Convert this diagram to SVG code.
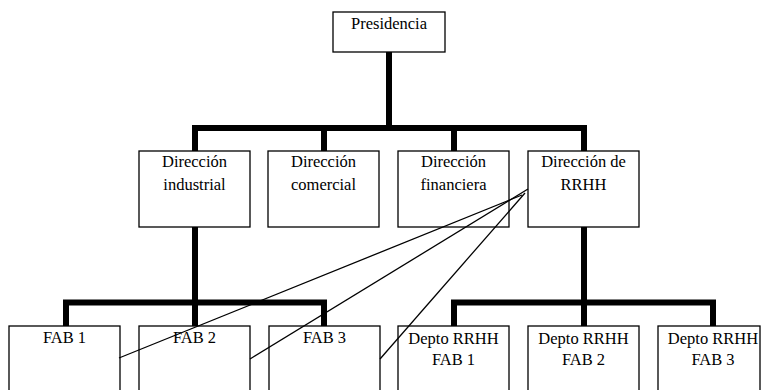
<svg xmlns="http://www.w3.org/2000/svg" width="761" height="390" viewBox="0 0 761 390">
<style>
.box{fill:#fff;stroke:#000;stroke-width:1.3}
.t{font-family:"Liberation Serif","Times New Roman",serif;font-size:16.5px;fill:#000;text-anchor:middle}
.bar{fill:none;stroke:#000;stroke-width:6;stroke-linejoin:miter}
.thin{fill:none;stroke:#000;stroke-width:1.3}
</style>
<rect width="761" height="390" fill="#fff"/>
<g id="connectors">
<path class="bar" d="M389,52 V128"/>
<path class="bar" d="M195,151 V128 H584 V151"/>
<path class="bar" d="M324,128 V151 M454,128 V151"/>
<path class="bar" d="M195,227 V326"/>
<path class="bar" d="M66,326 V302.5 H324 V326"/>
<path class="bar" d="M584,227 V326"/>
<path class="bar" d="M454,326 V302.5 H713 V326"/>
</g>
<g id="presidencia"><rect class="box" x="333" y="12" width="112" height="40"/><text class="t" x="389" y="29">Presidencia</text></g>
<g id="dir-industrial"><rect class="box" x="139" y="151" width="111" height="76"/><text class="t" x="194.5" y="167">Dirección</text><text class="t" x="194.5" y="190">industrial</text></g>
<g id="dir-comercial"><rect class="box" x="268" y="151" width="111" height="76"/><text class="t" x="323.5" y="167">Dirección</text><text class="t" x="323.5" y="190">comercial</text></g>
<g id="dir-financiera"><rect class="box" x="398" y="151" width="111" height="76"/><text class="t" x="453.5" y="167">Dirección</text><text class="t" x="453.5" y="190">financiera</text></g>
<g id="dir-rrhh"><rect class="box" x="528" y="151" width="111" height="76"/><text class="t" x="583.5" y="167">Dirección de</text><text class="t" x="583.5" y="190">RRHH</text></g>
<g id="fab1"><rect class="box" x="9" y="326" width="111" height="70"/><text class="t" x="64.5" y="343">FAB 1</text></g>
<g id="fab2"><rect class="box" x="139" y="326" width="111" height="70"/><text class="t" x="194.5" y="343">FAB 2</text></g>
<g id="fab3"><rect class="box" x="269" y="326" width="111" height="70"/><text class="t" x="324.5" y="343">FAB 3</text></g>
<g id="depto1"><rect class="box" x="398" y="326" width="111" height="70"/><text class="t" x="453.5" y="344">Depto RRHH</text><text class="t" x="453.5" y="365">FAB 1</text></g>
<g id="depto2"><rect class="box" x="528" y="326" width="111" height="70"/><text class="t" x="583.5" y="344">Depto RRHH</text><text class="t" x="583.5" y="365">FAB 2</text></g>
<g id="depto3"><rect class="box" x="658" y="326" width="102" height="70"/><text class="t" x="713" y="344">Depto RRHH</text><text class="t" x="713" y="365">FAB 3</text></g>
<g id="thin-lines">
<path class="thin" d="M119,358 L522,195"/>
<path class="thin" d="M250,359 L528,189"/>
<path class="thin" d="M380,359 L525,193"/>
</g>
</svg>
